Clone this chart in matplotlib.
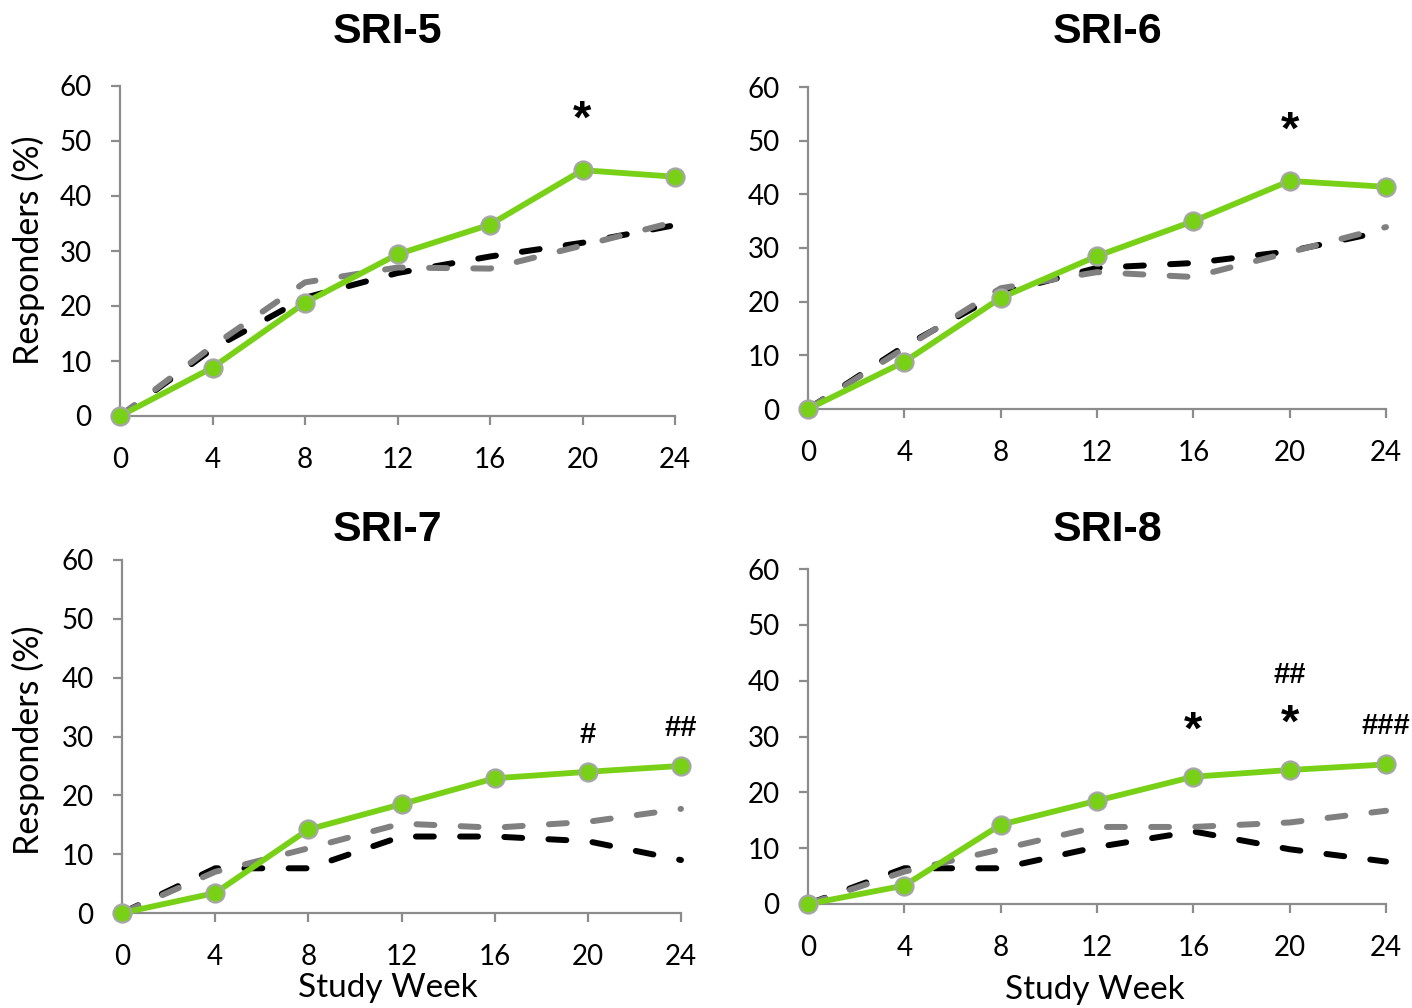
import matplotlib
matplotlib.use("Agg")
import matplotlib.pyplot as plt

weeks = [0, 4, 8, 12, 16, 20, 24]
x_ticks = [0, 4, 8, 12, 16, 20, 24]
y_ticks = [0, 10, 20, 30, 40, 50, 60]

titles = ["SRI-5", "SRI-6", "SRI-7", "SRI-8"]

green_sri5 = [0, 8.8, 20.6, 29.4, 34.8, 44.7, 43.5]
black_sri5 = [0, 12.2, 21.5, 26.0, 29.0, 31.5, 34.7]
gray_sri5 = [0, 12.7, 24.3, 27.0, 26.8, 31.0, 35.3]

green_sri6 = [0, 8.8, 20.7, 28.5, 35.0, 42.5, 41.4]
black_sri6 = [0, 11.7, 21.6, 26.3, 27.2, 29.4, 33.2]
gray_sri6 = [0, 11.3, 22.5, 25.5, 24.6, 29.2, 33.9]

green_sri7 = [0, 3.4, 14.2, 18.5, 22.9, 24.0, 25.0]
black_sri7 = [0, 7.6, 7.6, 13.0, 13.0, 12.2, 9.0]
gray_sri7 = [0, 7.0, 11.0, 15.2, 14.5, 15.5, 17.7]

green_sri8 = [0, 3.3, 14.2, 18.5, 22.8, 24.0, 25.0]
black_sri8 = [0, 6.4, 6.4, 10.2, 13.0, 9.8, 7.6]
gray_sri8 = [0, 5.8, 9.8, 13.8, 13.8, 14.6, 16.7]

# annotations: (x, y, text)
notes_sri5 = [(20, 55.5, "*")]
notes_sri6 = [(20, 53.4, "*")]
notes_sri7 = [(20, 30.3, "#"), (24, 31.5, "##")]
notes_sri8 = [(16, 32.6, "*"), (20, 33.9, "*"), (20, 41.0, "##"), (24, 31.9, "###")]

greens = [green_sri5, green_sri6, green_sri7, green_sri8]
blacks = [black_sri5, black_sri6, black_sri7, black_sri8]
grays = [gray_sri5, gray_sri6, gray_sri7, gray_sri8]
notes = [notes_sri5, notes_sri6, notes_sri7, notes_sri8]

W, H = 1412, 1008
fig = plt.figure(figsize=(W / 100, H / 100), dpi=100)
fig.patch.set_facecolor("white")

# pixel boxes: left, right, top, bottom
boxes = [(120, 675, 86, 416), (808, 1386, 87, 409),
         (122, 681, 560, 913), (808, 1386, 569, 904)]

GREEN = "#78D116"
SPINE = "#8C8C8C"
tick_font = "Lato"
DASH = (3.0, 4.4)

axes = []
for i, (l, r, t, b) in enumerate(boxes):
    ax = fig.add_axes([l / W, (H - b) / H, (r - l) / W, (b - t) / H])
    axes.append(ax)
    ax.plot(weeks, blacks[i], color="black", lw=4.3, dashes=DASH,
            dash_capstyle="round", zorder=2, clip_on=False)
    ax.plot(weeks, grays[i], color="#808080", lw=4.3, dashes=DASH,
            dash_capstyle="round", zorder=3, clip_on=False)
    ax.plot(weeks, greens[i], color=GREEN, lw=4.2, marker="o", markersize=13,
            markerfacecolor=GREEN, markeredgecolor="#A6A6A6", markeredgewidth=1.6,
            zorder=4, clip_on=False)
    for (xx, yy, txt) in notes[i]:
        if txt == "*":
            ax.annotate(txt, (xx, yy), xytext=(0, -7), textcoords="offset points",
                        ha="center", va="center", fontsize=34,
                        fontweight="bold", family="Liberation Sans")
        else:
            ax.annotate(txt, (xx, yy), xytext=(0, 0), textcoords="offset points",
                        ha="center", va="center", fontsize=21,
                        fontweight="bold", family="Liberation Sans")
    ax.set_xlim(0, 24)
    ax.set_ylim(0, 60)
    ax.set_xticks(x_ticks)
    ax.set_yticks(y_ticks)
    for s in ["top", "right"]:
        ax.spines[s].set_visible(False)
    for s in ["left", "bottom"]:
        ax.spines[s].set_color(SPINE)
        ax.spines[s].set_linewidth(1.6)
    ax.tick_params(axis="both", direction="out", length=6.5, width=1.6, color=SPINE,
                   labelsize=20)
    ax.tick_params(axis="x", pad=16)
    ax.tick_params(axis="y", pad=14)
    for lab in ax.get_xticklabels() + ax.get_yticklabels():
        lab.set_family(tick_font)

# y labels and x labels at pixel positions
ylab_pos = [(28, 250), (28, 740)]
for (px, py) in ylab_pos:
    fig.text(px / W, 1 - py / H, "Responders (%)", rotation=90, ha="center",
             va="center", fontsize=24.5, family=tick_font)
xlab_pos = [(388, 988), (1095, 990)]
for (px, py) in xlab_pos:
    fig.text(px / W, 1 - py / H, "Study Week", ha="center", va="center",
             fontsize=24, family=tick_font)

# titles at pixel positions
title_pos = [(388, 32), (1108, 32), (388, 530), (1108, 530)]
for ttl, (tx, ty) in zip(titles, title_pos):
    fig.text(tx / W, 1 - ty / H, ttl, ha="center", va="center",
             fontsize=31, fontweight="bold", family="Liberation Sans")

fig.savefig("out.png", dpi=100, facecolor="white")
